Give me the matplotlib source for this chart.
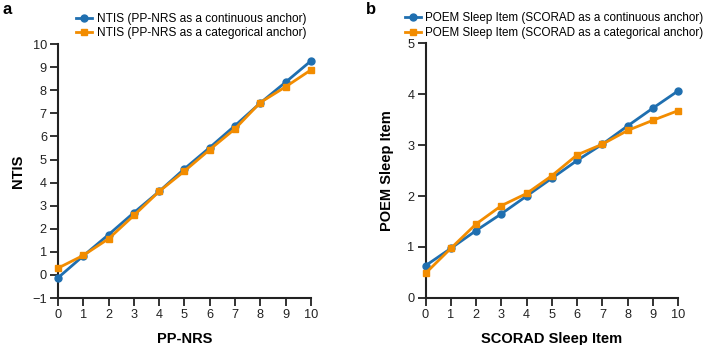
import matplotlib
matplotlib.use("Agg")
import matplotlib.pyplot as plt

plt.rcParams['font.family'] = ['Liberation Sans', 'DejaVu Sans']

x_vals = list(range(11))
ntis_cont = [-0.12, 0.83, 1.75, 2.70, 3.62, 4.60, 5.52, 6.47, 7.45, 8.35, 9.27]
ntis_cat = [0.30, 0.85, 1.57, 2.58, 3.62, 4.50, 5.43, 6.33, 7.47, 8.15, 8.88]
poem_cont = [0.63, 0.97, 1.32, 1.65, 2.00, 2.35, 2.70, 3.02, 3.38, 3.73, 4.07]
poem_cat = [0.48, 0.97, 1.45, 1.81, 2.05, 2.40, 2.81, 3.02, 3.29, 3.49, 3.68]

labels_a = ["NTIS (PP-NRS as a continuous anchor)", "NTIS (PP-NRS as a categorical anchor)"]
labels_b = ["POEM Sleep Item (SCORAD as a continuous anchor)", "POEM Sleep Item (SCORAD as a categorical anchor)"]

BLUE = "#1f6fb0"
ORANGE = "#f28c00"

fig = plt.figure(figsize=(7.08, 3.45), dpi=100)
axa = fig.add_axes([0.082, 0.136, 0.357, 0.736])
axb = fig.add_axes([0.601, 0.137, 0.357, 0.737])

def style(ax):
    for s in ['top', 'right']:
        ax.spines[s].set_visible(False)
    for s in ['left', 'bottom']:
        ax.spines[s].set_linewidth(1.5)
        ax.spines[s].set_color('#222222')
    ax.tick_params(direction='out', length=5.5, width=1.3, labelsize=9.2, colors='#222222', pad=2.5)

for ax, c1, c2, labs, ylim, yt, xl, yl, lx, ylx, lfs in [
    (axa, ntis_cont, ntis_cat, labels_a, (-1, 10), range(-1, 11), "PP-NRS", "NTIS", 0.051, -0.130, 8.6),
    (axb, poem_cont, poem_cat, labels_b, (0, 5), range(0, 6), "SCORAD Sleep Item", "POEM Sleep Item", -0.1, -0.125, 8.4),
]:
    ax.plot(x_vals, c1, color=BLUE, lw=2, marker='o', ms=5, label=labs[0], clip_on=False, zorder=3)
    ax.plot(x_vals, c2, color=ORANGE, lw=2, marker='s', ms=5, label=labs[1], clip_on=False, zorder=4)
    ax.set_xlim(0, 10)
    ax.set_ylim(*ylim)
    ax.set_xticks(range(11))
    ax.set_yticks(list(yt))
    ax.set_xticklabels([str(v) for v in range(11)])
    ax.set_yticklabels([("\u2212" + str(-v)) if v < 0 else str(v) for v in yt])
    style(ax)
    ax.set_xlabel(xl, fontsize=10.5, fontweight='bold', labelpad=8)
    ax.set_ylabel(yl, fontsize=10.5, fontweight='bold')
    ax.yaxis.set_label_coords(ylx, 0.5)
    ax.legend(loc='lower left', bbox_to_anchor=(lx, 1.0), frameon=False, fontsize=lfs,
              handlelength=1.4, handletextpad=0.35, labelspacing=0.2, borderaxespad=0.3,
              borderpad=0.1)

fig.text(0.003, 0.995, "a", fontsize=12, fontweight='bold', va='top')
fig.text(0.517, 0.995, "b", fontsize=12, fontweight='bold', va='top')

fig.savefig("out.png", dpi=100)
